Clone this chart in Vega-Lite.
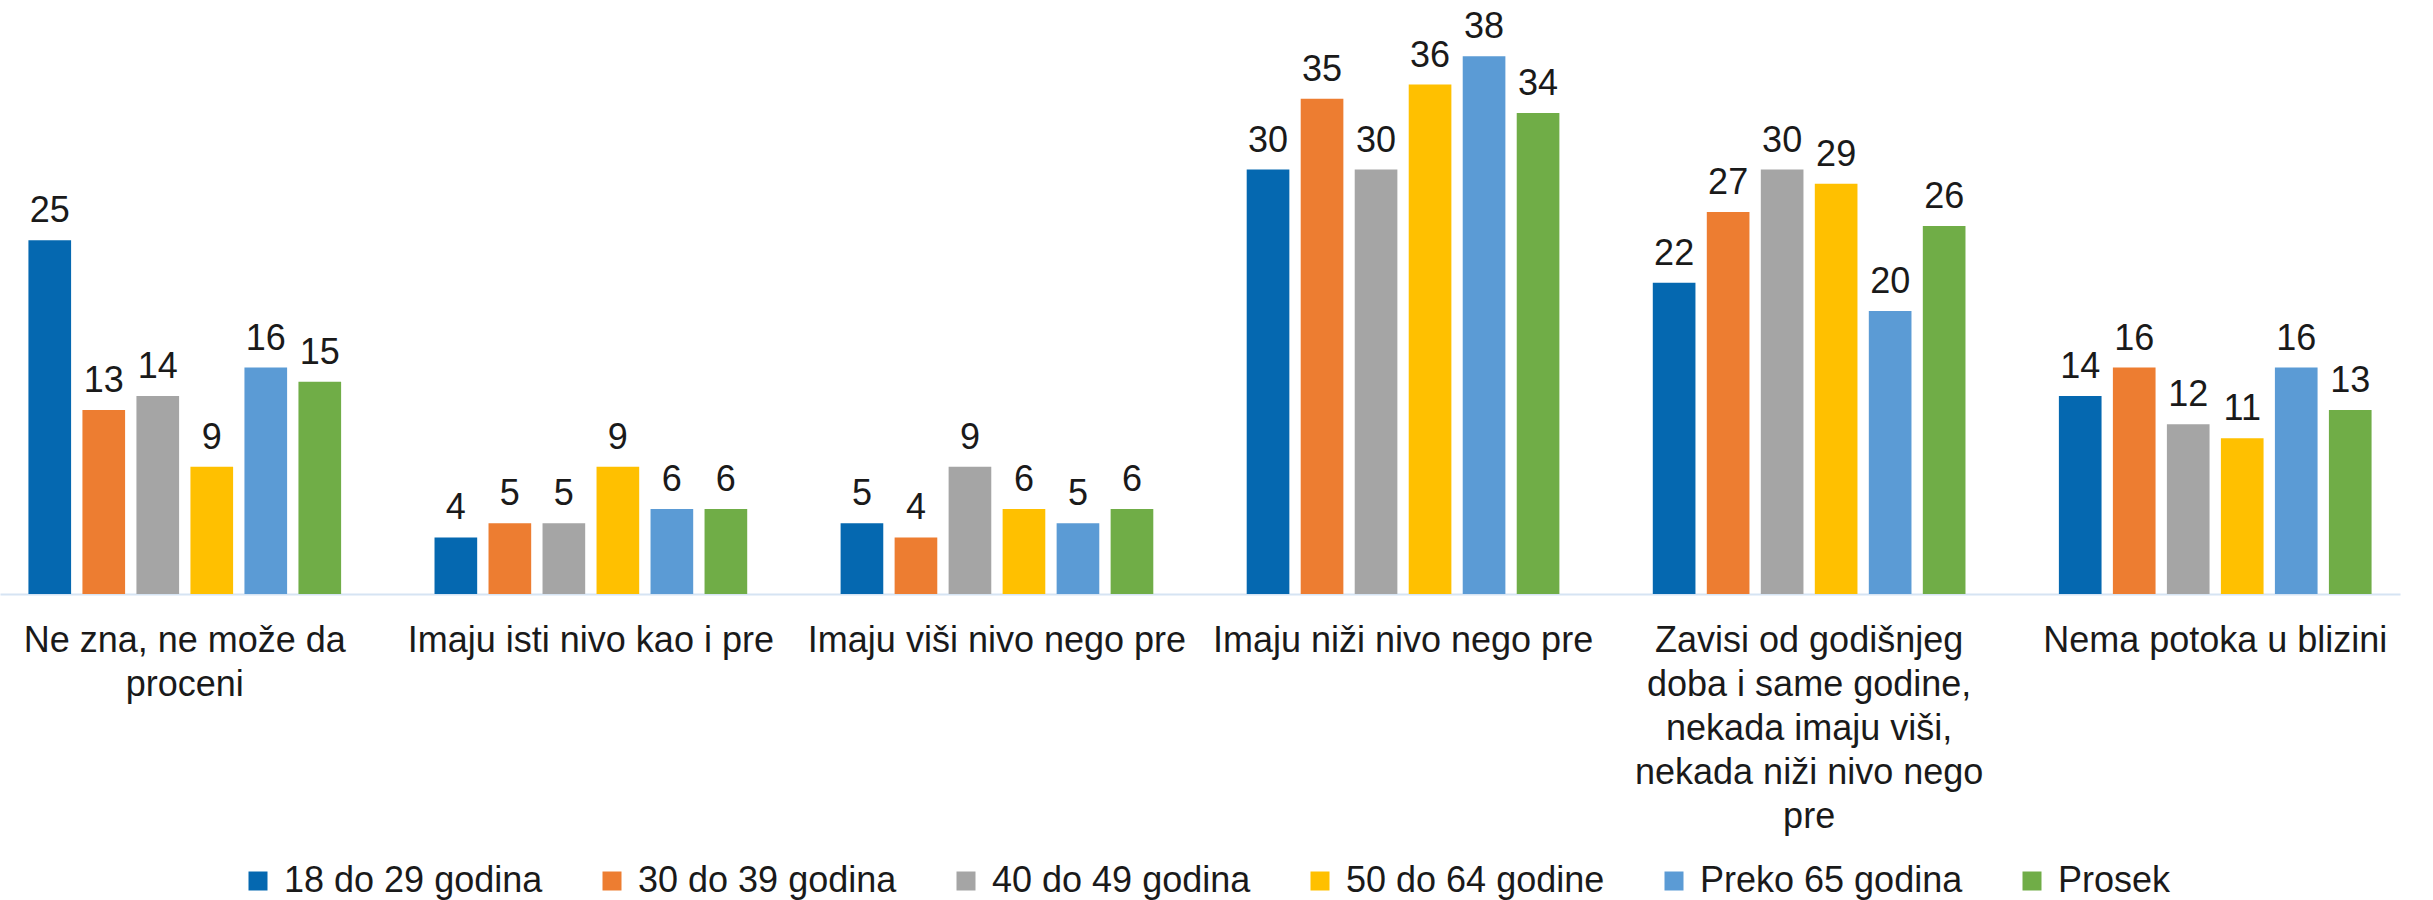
{
  "$schema": "https://vega.github.io/schema/vega-lite/v6.json",
  "width": 2400,
  "height": 566,
  "autosize": {"type": "none"},
  "padding": {"left": 0, "top": 28, "right": 33, "bottom": 306},
  "background": "white",
  "config": {"view": {"stroke": null}, "font": "Liberation Sans"},
  "data": {
    "values": [
      {"kategorija": "Ne zna, ne može da proceni", "grupa": "18 do 29 godina", "vrednost": 25},
      {"kategorija": "Ne zna, ne može da proceni", "grupa": "30 do 39 godina", "vrednost": 13},
      {"kategorija": "Ne zna, ne može da proceni", "grupa": "40 do 49 godina", "vrednost": 14},
      {"kategorija": "Ne zna, ne može da proceni", "grupa": "50 do 64 godine", "vrednost": 9},
      {"kategorija": "Ne zna, ne može da proceni", "grupa": "Preko 65 godina", "vrednost": 16},
      {"kategorija": "Ne zna, ne može da proceni", "grupa": "Prosek", "vrednost": 15},
      {"kategorija": "Imaju isti nivo kao i pre", "grupa": "18 do 29 godina", "vrednost": 4},
      {"kategorija": "Imaju isti nivo kao i pre", "grupa": "30 do 39 godina", "vrednost": 5},
      {"kategorija": "Imaju isti nivo kao i pre", "grupa": "40 do 49 godina", "vrednost": 5},
      {"kategorija": "Imaju isti nivo kao i pre", "grupa": "50 do 64 godine", "vrednost": 9},
      {"kategorija": "Imaju isti nivo kao i pre", "grupa": "Preko 65 godina", "vrednost": 6},
      {"kategorija": "Imaju isti nivo kao i pre", "grupa": "Prosek", "vrednost": 6},
      {"kategorija": "Imaju viši nivo nego pre", "grupa": "18 do 29 godina", "vrednost": 5},
      {"kategorija": "Imaju viši nivo nego pre", "grupa": "30 do 39 godina", "vrednost": 4},
      {"kategorija": "Imaju viši nivo nego pre", "grupa": "40 do 49 godina", "vrednost": 9},
      {"kategorija": "Imaju viši nivo nego pre", "grupa": "50 do 64 godine", "vrednost": 6},
      {"kategorija": "Imaju viši nivo nego pre", "grupa": "Preko 65 godina", "vrednost": 5},
      {"kategorija": "Imaju viši nivo nego pre", "grupa": "Prosek", "vrednost": 6},
      {"kategorija": "Imaju niži nivo nego pre", "grupa": "18 do 29 godina", "vrednost": 30},
      {"kategorija": "Imaju niži nivo nego pre", "grupa": "30 do 39 godina", "vrednost": 35},
      {"kategorija": "Imaju niži nivo nego pre", "grupa": "40 do 49 godina", "vrednost": 30},
      {"kategorija": "Imaju niži nivo nego pre", "grupa": "50 do 64 godine", "vrednost": 36},
      {"kategorija": "Imaju niži nivo nego pre", "grupa": "Preko 65 godina", "vrednost": 38},
      {"kategorija": "Imaju niži nivo nego pre", "grupa": "Prosek", "vrednost": 34},
      {"kategorija": "Zavisi od godišnjeg doba i same godine, nekada imaju viši, nekada niži nivo nego pre", "grupa": "18 do 29 godina", "vrednost": 22},
      {"kategorija": "Zavisi od godišnjeg doba i same godine, nekada imaju viši, nekada niži nivo nego pre", "grupa": "30 do 39 godina", "vrednost": 27},
      {"kategorija": "Zavisi od godišnjeg doba i same godine, nekada imaju viši, nekada niži nivo nego pre", "grupa": "40 do 49 godina", "vrednost": 30},
      {"kategorija": "Zavisi od godišnjeg doba i same godine, nekada imaju viši, nekada niži nivo nego pre", "grupa": "50 do 64 godine", "vrednost": 29},
      {"kategorija": "Zavisi od godišnjeg doba i same godine, nekada imaju viši, nekada niži nivo nego pre", "grupa": "Preko 65 godina", "vrednost": 20},
      {"kategorija": "Zavisi od godišnjeg doba i same godine, nekada imaju viši, nekada niži nivo nego pre", "grupa": "Prosek", "vrednost": 26},
      {"kategorija": "Nema potoka u blizini", "grupa": "18 do 29 godina", "vrednost": 14},
      {"kategorija": "Nema potoka u blizini", "grupa": "30 do 39 godina", "vrednost": 16},
      {"kategorija": "Nema potoka u blizini", "grupa": "40 do 49 godina", "vrednost": 12},
      {"kategorija": "Nema potoka u blizini", "grupa": "50 do 64 godine", "vrednost": 11},
      {"kategorija": "Nema potoka u blizini", "grupa": "Preko 65 godina", "vrednost": 16},
      {"kategorija": "Nema potoka u blizini", "grupa": "Prosek", "vrednost": 13}
    ]
  },
  "encoding": {
    "x": {
      "field": "kategorija",
      "type": "nominal",
      "sort": ["Ne zna, ne može da proceni", "Imaju isti nivo kao i pre", "Imaju viši nivo nego pre", "Imaju niži nivo nego pre", "Zavisi od godišnjeg doba i same godine, nekada imaju viši, nekada niži nivo nego pre", "Nema potoka u blizini"],
      "scale": {"paddingInner": 0.23, "paddingOuter": 0.07},
      "axis": {
        "title": null,
        "labelAngle": 0,
        "labelFontSize": 36,
        "labelColor": "#1a1a1a",
        "labelPadding": 29,
        "labelBaseline": "top",
        "labelLineHeight": 44,
        "ticks": false,
        "domainColor": "#d6e4f3",
        "domainWidth": 2,
        "labelLimit": 0,
        "labelOverlap": false,
        "labelExpr": "datum.value == 'Ne zna, ne može da proceni' ? ['Ne zna, ne može da', 'proceni'] : datum.value == 'Zavisi od godišnjeg doba i same godine, nekada imaju viši, nekada niži nivo nego pre' ? ['Zavisi od godišnjeg', 'doba i same godine,', 'nekada imaju viši,', 'nekada niži nivo nego', 'pre'] : datum.label"
      }
    },
    "xOffset": {
      "field": "grupa",
      "type": "nominal",
      "sort": ["18 do 29 godina", "30 do 39 godina", "40 do 49 godina", "50 do 64 godine", "Preko 65 godina", "Prosek"],
      "scale": {"paddingInner": 0.21}
    },
    "y": {
      "field": "vrednost",
      "type": "quantitative",
      "scale": {"domain": [0, 40]},
      "axis": null
    }
  },
  "layer": [
    {
      "mark": {"type": "bar"},
      "encoding": {
        "color": {
          "field": "grupa",
          "type": "nominal",
          "sort": ["18 do 29 godina", "30 do 39 godina", "40 do 49 godina", "50 do 64 godine", "Preko 65 godina", "Prosek"],
          "scale": {
            "domain": ["18 do 29 godina", "30 do 39 godina", "40 do 49 godina", "50 do 64 godine", "Preko 65 godina", "Prosek"],
            "range": ["#0568B0", "#ED7D31", "#A5A5A5", "#FFC000", "#5B9BD5", "#70AD47"]
          },
          "legend": {
            "title": null,
            "orient": "none",
            "legendX": 240,
            "legendY": 835,
            "direction": "horizontal",
            "symbolType": "square",
            "symbolSize": 361,
            "symbolStrokeWidth": 0,
            "labelFontSize": 36,
            "labelColor": "#1a1a1a",
            "labelOffset": 8,
            "columnPadding": 51,
            "labelLimit": 0
          }
        }
      }
    },
    {
      "mark": {"type": "text", "dy": -18, "baseline": "alphabetic", "fontSize": 36, "color": "#1a1a1a"},
      "encoding": {"text": {"field": "vrednost", "type": "quantitative"}}
    }
  ]
}
